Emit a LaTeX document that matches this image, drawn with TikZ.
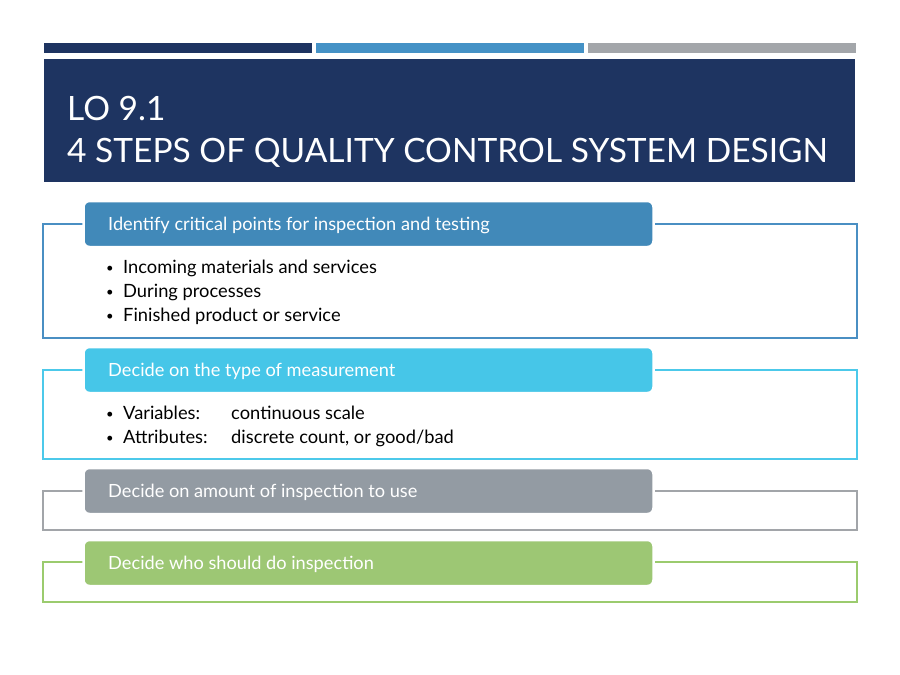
\documentclass[tikz,border=0pt]{standalone}
\usepackage{fontspec}
\setmainfont{Lato}
\definecolor{navy}{HTML}{1E3461}
\definecolor{barblue}{HTML}{4592C6}
\definecolor{bargray}{HTML}{A3A6AA}
\definecolor{hA}{HTML}{4189B9}
\definecolor{fA}{HTML}{4A8FC3}
\definecolor{hB}{HTML}{46C6E8}
\definecolor{fB}{HTML}{4CC9EA}
\definecolor{hC}{HTML}{939BA3}
\definecolor{fC}{HTML}{A2A5A9}
\definecolor{hD}{HTML}{9DC774}
\definecolor{fD}{HTML}{9BCB6E}
\tikzset{
  bar/.style={rectangle, inner sep=0pt, minimum height=10pt, minimum width=268pt},
  framebox/.style={rectangle, inner sep=0pt, line width=2pt, minimum width=814pt},
  hdr/.style={rectangle, rounded corners=6pt, inner sep=0pt, draw=white, line width=2.5pt, minimum width=570pt, minimum height=46pt},
  hdrtxt/.style={anchor=base west, inner sep=0pt, text=white, font=\fontsize{18.2}{21}\selectfont},
  bodytxt/.style={anchor=base west, inner sep=0pt, text=black, font=\fontsize{18.3}{21}\selectfont},
  dottxt/.style={anchor=base west, inner sep=0pt, text=black, font=\fontsize{13}{15}\selectfont},
  titletxt/.style={anchor=base west, inner sep=0pt, text=white, font=\fontsize{33.5}{40}\selectfont}
}
\begin{document}
\begin{tikzpicture}[x=1pt,y=-1pt]
\useasboundingbox[fill=white] (0,0) rectangle (900,675);
% top bars
\node[bar, fill=navy] (b1) at (178,48) {};
\node[bar, fill=barblue] (b2) at (449.5,48) {};
\node[bar, fill=bargray] (b3) at (721.5,48) {};
% title
\node[rectangle, inner sep=0pt, fill=navy, minimum width=811pt, minimum height=123pt] (title) at (449.5,120.5) {};
\node[titletxt] (t1) at (67,120) {LO 9.1};
\node[titletxt] (t2) at (67,162) {4 STEPS OF QUALITY CONTROL SYSTEM DESIGN};
% step 1
\node[framebox, draw=fA, minimum height=114pt] (f1) at (450,281) {};
\node[hdr, fill=hA] (h1) at (368.5,224) {};
\node[hdrtxt] (h1t) at (108,230) {Identify critical points for inspection and testing};
\node[dottxt] (d11) at (106,272) {•};
\node[bodytxt] (s11) at (123,273) {Incoming materials and services};
\node[dottxt] (d12) at (106,296) {•};
\node[bodytxt] (s12) at (123,297) {During processes};
\node[dottxt] (d13) at (106,320) {•};
\node[bodytxt] (s13) at (123,321) {Finished product or service};
% step 2
\node[framebox, draw=fB, minimum height=89pt] (f2) at (450,414.5) {};
\node[hdr, fill=hB] (h2) at (368.5,370) {};
\node[hdrtxt] (h2t) at (108,376) {Decide on the type of measurement};
\node[dottxt] (d21) at (106,418) {•};
\node[bodytxt] (s21) at (123,419) {Variables:};
\node[bodytxt] (v21) at (231,419) {continuous scale};
\node[dottxt] (d22) at (106,442) {•};
\node[bodytxt] (s22) at (123,443) {Attributes:};
\node[bodytxt] (v22) at (231,443) {discrete count, or good/bad};
% step 3
\node[framebox, draw=fC, minimum height=39pt] (f3) at (450,510.5) {};
\node[hdr, fill=hC] (h3) at (368.5,491) {};
\node[hdrtxt] (h3t) at (108,497) {Decide on amount of inspection to use};
% step 4
\node[framebox, draw=fD, minimum height=40pt] (f4) at (450,582) {};
\node[hdr, fill=hD] (h4) at (368.5,563) {};
\node[hdrtxt] (h4t) at (108,569) {Decide who should do inspection};
\end{tikzpicture}
\end{document}
